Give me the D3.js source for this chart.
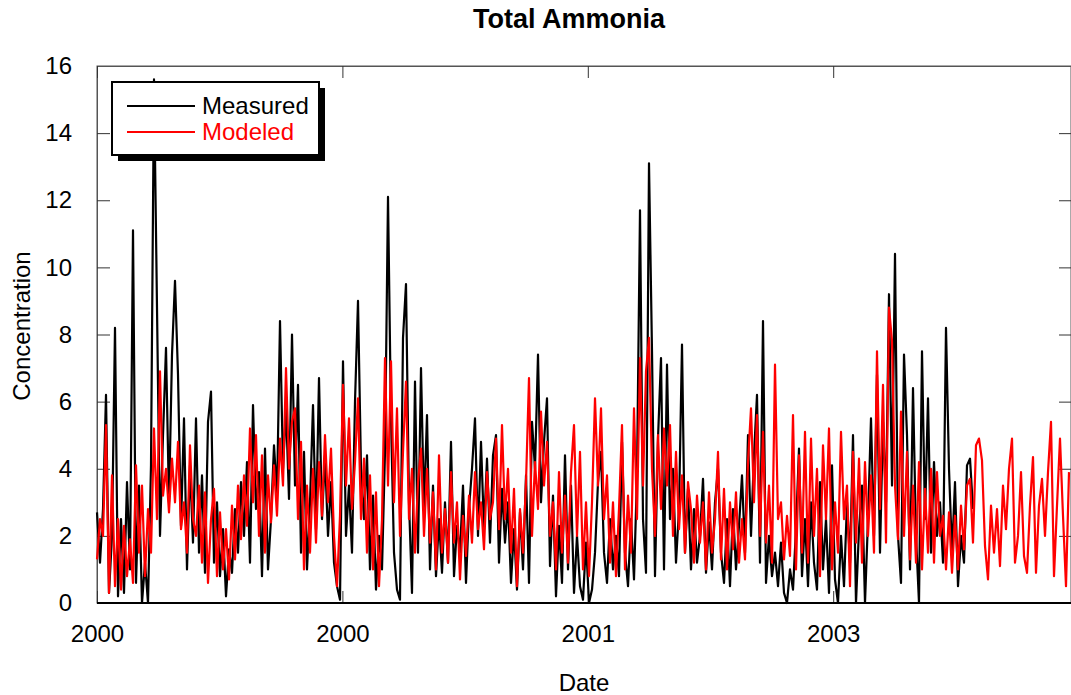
<!DOCTYPE html>
<html>
<head>
<meta charset="utf-8">
<script src="https://cdn.jsdelivr.net/npm/d3@7"></script>
<style>
  body { margin: 0; background: #fff; }
  text { font-family: Arial, "Liberation Sans", sans-serif; }
</style>
</head>
<body>
<div id="chart"></div>
<script>
// values, one sample every step
var measured = [
  2.7, 1.2, 2.8, 6.2, 0.3, 2.0, 8.2, 0.2, 2.5, 0.3, 3.6, 1.0, 11.1, 0.6, 3.5, 0.0, 1.2, 0.0, 4.1, 15.6, 8.8, 2.0, 5.0, 7.6, 3.0, 7.4, 9.6, 6.8, 2.3, 5.5, 1.0, 4.1, 1.8,
  5.5, 1.5, 3.8, 0.9, 5.4, 6.3, 1.2, 3.0, 0.8, 2.2, 0.2, 1.6, 0.9, 2.8, 1.5, 3.6, 2.0, 4.2, 1.2, 5.9, 2.8, 3.9, 0.8, 4.6, 1.0, 2.5, 4.7, 3.2, 8.4, 4.0, 5.8, 3.1, 8.0,
  3.5, 6.5, 1.5, 4.5, 1.0, 3.0, 5.9, 2.2, 6.7, 2.5, 4.4, 2.0, 3.6, 1.2, 0.5, 0.1, 7.2, 2.0, 3.5, 1.5, 6.0, 9.0, 4.0, 2.5, 4.4, 1.0, 3.2, 0.4, 2.0, 1.0, 4.5, 12.1, 5.5,
  1.5, 0.4, 0.1, 7.9, 9.5, 3.0, 0.3, 6.6, 1.5, 7.0, 2.8, 5.6, 1.0, 3.5, 0.8, 2.5, 0.9, 3.0, 1.2, 4.8, 0.8, 2.3, 1.5, 3.5, 0.6, 2.8, 4.0, 5.5, 2.0, 4.8, 2.2, 4.3, 1.8,
  4.4, 5.0, 1.2, 3.4, 1.8, 3.0, 0.6, 2.2, 0.4, 2.7, 1.0, 3.8, 0.6, 5.4, 4.0, 7.4, 3.0, 4.8, 6.1, 1.1, 3.2, 0.2, 2.3, 0.6, 4.4, 1.0, 3.5, 0.3, 2.0, 0.5, 0.1, 1.8, 0.0,
  0.4, 1.5, 3.6, 4.5, 1.5, 0.6, 2.5, 1.0, 2.0, 0.8, 4.8, 1.5, 0.5, 2.5, 0.7, 3.8, 11.7, 2.5, 0.9, 13.1, 7.5, 0.8, 4.9, 7.3, 1.0, 7.1, 2.5, 4.0, 1.2, 2.8, 7.7, 1.5, 3.4,
  1.0, 2.8, 1.2, 2.0, 3.7, 0.9, 2.4, 1.0, 3.0, 4.0, 1.5, 0.6, 2.5, 0.5, 2.8, 1.0, 2.3, 3.8, 1.5, 5.0, 2.0, 4.4, 6.2, 1.2, 8.4, 0.6, 2.0, 0.8, 1.5, 0.5, 1.8, 0.3, 0.0,
  1.0, 0.4, 2.2, 4.6, 0.8, 2.5, 0.5, 3.0, 1.2, 0.4, 3.6, 1.0, 2.5, 0.3, 4.1, 0.7, 0.0, 2.0, 0.5, 3.0, 1.2, 5.0, 0.0, 2.2, 3.5, 0.0, 2.5, 5.5, 2.0, 6.8, 1.5, 5.4, 3.0,
  9.2, 3.5, 10.4, 2.0, 0.6, 7.4, 5.0, 1.0, 6.4, 2.0, 0.0, 7.5, 2.5, 6.1, 1.5, 4.2, 2.0, 3.0, 1.2, 8.2, 4.0, 1.5, 3.6, 0.5, 2.0, 1.2, 4.1, 4.3, 2.8
];

var modeled = [
  1.3, 2.5, 2.0, 5.3, 0.3, 3.8, 0.5, 2.5, 0.4, 2.3, 0.8, 1.9, 0.6, 4.1, 1.5, 3.5, 0.8, 2.8, 1.5, 5.2, 2.5, 6.9, 3.2, 4.0, 2.7, 4.3, 3.0, 4.8, 2.2, 3.0, 1.5, 4.7, 2.5,
  2.0, 3.5, 1.2, 3.3, 0.6, 2.5, 3.4, 0.8, 2.7, 1.0, 2.2, 0.7, 2.9, 1.3, 3.5, 1.9, 3.8, 2.3, 5.2, 3.0, 5.0, 2.0, 4.4, 1.5, 3.8, 2.4, 4.1, 2.6, 4.9, 3.5, 7.0, 4.0, 5.4,
  5.8, 2.5, 4.8, 1.0, 3.5, 1.5, 4.0, 1.8, 4.2, 2.6, 5.0, 3.0, 4.6, 2.0, 0.5, 2.6, 6.5, 3.5, 5.5, 2.8, 4.2, 6.1, 2.5, 4.3, 1.5, 3.8, 1.0, 3.3, 0.5, 2.5, 7.3, 3.5, 7.2,
  3.0, 5.8, 2.0, 4.5, 6.6, 2.5, 4.0, 1.5, 3.6, 4.6, 2.0, 4.0, 1.8, 3.3, 1.0, 4.4, 1.5, 2.8, 1.2, 3.9, 1.8, 3.0, 0.7, 2.6, 1.4, 3.2, 1.8, 3.9, 2.2, 3.0, 1.6, 3.9, 2.5,
  3.0, 4.9, 2.2, 5.3, 2.5, 4.0, 1.5, 3.4, 0.5, 2.8, 1.5, 3.6, 6.7, 2.0, 4.2, 2.8, 5.7, 3.5, 4.8, 2.0, 3.0, 1.0, 3.9, 1.5, 3.2, 1.2, 3.9, 5.3, 2.0, 4.5, 1.0, 3.0, 0.8,
  3.0, 6.1, 3.5, 5.8, 2.5, 3.8, 1.2, 3.0, 0.8, 2.8, 5.3, 1.0, 3.2, 1.5, 5.8, 2.5, 7.3, 3.5, 6.9, 7.9, 4.0, 2.0, 5.0, 2.8, 5.2, 3.5, 5.3, 2.0, 4.5, 2.2, 3.8, 1.5, 3.6,
  2.8, 1.2, 3.2, 1.8, 3.0, 1.0, 3.3, 1.5, 2.5, 4.5, 1.3, 3.4, 1.0, 3.0, 1.6, 3.3, 1.2, 2.5, 1.3, 4.2, 5.8, 3.0, 5.6, 2.0, 5.1, 1.8, 3.5, 1.2, 7.1, 2.5, 3.0, 1.3, 2.6,
  1.4, 5.6, 1.0, 4.4, 1.5, 5.1, 1.2, 4.9, 2.0, 4.0, 0.8, 4.7, 2.5, 5.2, 1.0, 3.0, 1.5, 5.1, 2.5, 3.5, 0.5, 4.5, 1.8, 4.3, 1.2, 4.2, 2.0, 3.8, 1.5, 7.5, 2.8, 6.5, 1.8,
  8.8, 7.8, 3.5, 1.9, 5.7, 2.0, 4.5, 1.3, 3.5, 1.2, 4.2, 1.0, 3.4, 1.5, 4.0, 1.2, 3.9, 2.0, 2.6, 1.0, 2.7, 0.9, 2.6, 1.0, 2.9, 1.6, 3.5, 3.7, 1.8, 4.7, 4.9, 4.25,
  1.7, 0.7, 2.9, 1.5, 2.8, 1.1, 3.5, 2.2, 4.0, 4.9, 1.2, 2.0, 3.9, 1.4, 0.9, 2.9, 4.35, 0.9, 2.9, 3.7, 2.0, 3.9, 5.4, 0.8, 2.9, 4.9, 2.6, 0.5, 3.9
];

var xTicks = [0, 81.8, 163.6, 245.4];
var xTickLabels = ["2000", "2000", "2001", "2003"];
var yTicks = [0, 2, 4, 6, 8, 10, 12, 14, 16];

var margin = { top: 66, right: 0, bottom: 92, left: 97 };
var width = 974;
var height = 537;

var svg = d3.select("#chart").append("svg")
    .attr("width", 1071)
    .attr("height", 695);

var g = svg.append("g")
    .attr("transform", "translate(" + margin.left + "," + margin.top + ")");

// one sample every 3 px
var x = d3.scaleLinear().domain([0, width / 3]).range([0, width]);
var y = d3.scaleLinear().domain([0, 16]).range([height, 0]);

var line = d3.line()
    .x(function (d, i) { return x(i); })
    .y(function (d) { return y(d); });

// frame
g.append("rect")
    .attr("width", width)
    .attr("height", height)
    .attr("fill", "none")
    .attr("stroke", "#555")
    .attr("stroke-width", 1);

// left axis, ticks pointing in
g.append("g")
    .call(d3.axisLeft(y).tickValues(yTicks).tickSize(-13).tickSizeOuter(0).tickPadding(25));

// right axis, no labels
g.append("g")
    .attr("transform", "translate(" + width + ",0)")
    .call(d3.axisRight(y).tickValues(yTicks).tickSize(-12).tickSizeOuter(0).tickFormat(""));

g.append("g")
    .attr("transform", "translate(0," + height + ")")
    .call(d3.axisBottom(x).tickValues(xTicks).tickSize(-12).tickSizeOuter(0).tickPadding(22)
        .tickFormat(function (d, i) { return xTickLabels[i]; }));

g.append("g")
    .call(d3.axisTop(x).tickValues(xTicks).tickSize(-12).tickSizeOuter(0).tickFormat(""));

g.selectAll(".domain").attr("stroke", "#555");
g.selectAll(".tick line").attr("stroke", "#333");
g.selectAll(".tick text")
    .attr("font-size", 24)
    .attr("fill", "#000");

// data lines, modeled on top
g.append("path")
    .datum(measured)
    .attr("d", line)
    .attr("fill", "none")
    .attr("stroke", "#000")
    .attr("stroke-width", 2.2)
    .attr("stroke-linejoin", "round");

g.append("path")
    .datum(modeled)
    .attr("d", line)
    .attr("fill", "none")
    .attr("stroke", "#ff0000")
    .attr("stroke-width", 2.2)
    .attr("stroke-linejoin", "round");

// bottom axis line
g.append("line")
    .attr("x1", 0).attr("x2", width)
    .attr("y1", height).attr("y2", height)
    .attr("stroke", "#000")
    .attr("stroke-width", 2);

// legend
var legend = g.append("g").attr("transform", "translate(15,16)");
legend.append("rect")
    .attr("x", 6).attr("y", 6)
    .attr("width", 207).attr("height", 73)
    .attr("fill", "#000");
legend.append("rect")
    .attr("width", 207).attr("height", 73)
    .attr("fill", "#fff")
    .attr("stroke", "#000")
    .attr("stroke-width", 2);

var legendItems = [{ name: "Measured", colour: "#000" }, { name: "Modeled", colour: "#ff0000" }];
var item = legend.selectAll(".item")
    .data(legendItems)
    .enter()
    .append("g")
    .attr("transform", function (d, i) { return "translate(0," + (24 + i * 26) + ")"; });
item.append("line")
    .attr("x1", 15).attr("x2", 83)
    .attr("stroke", function (d) { return d.colour; })
    .attr("stroke-width", 2);
item.append("text")
    .attr("x", 90)
    .attr("dy", "0.35em")
    .attr("font-size", 24)
    .attr("fill", function (d) { return d.colour; })
    .text(function (d) { return d.name; });

// titles
svg.append("text")
    .attr("x", 569).attr("y", 28)
    .attr("text-anchor", "middle")
    .attr("font-size", 27)
    .attr("font-weight", "bold")
    .text("Total Ammonia");

svg.append("text")
    .attr("x", 584).attr("y", 691)
    .attr("text-anchor", "middle")
    .attr("font-size", 24)
    .text("Date");

svg.append("text")
    .attr("transform", "translate(30,326) rotate(-90)")
    .attr("text-anchor", "middle")
    .attr("font-size", 24)
    .text("Concentration");
</script>
</body>
</html>
